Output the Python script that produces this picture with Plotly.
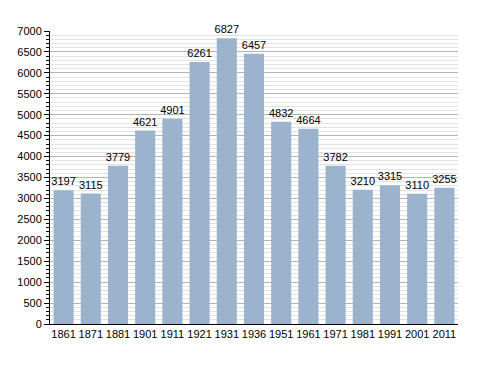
import plotly.graph_objects as go

years = ["1861", "1871", "1881", "1901", "1911", "1921", "1931", "1936",
         "1951", "1961", "1971", "1981", "1991", "2001", "2011"]
population = [3197, 3115, 3779, 4621, 4901, 6261, 6827, 6457,
              4832, 4664, 3782, 3210, 3315, 3110, 3255]
y_ticks = list(range(0, 7001, 500))

fig = go.Figure(go.Bar(
    x=years, y=population,
    text=[str(v) for v in population],
    textposition="outside",
    constraintext="none",
    textfont=dict(family="Liberation Sans, Arial", size=11, color="#000"),
    cliponaxis=False,
    marker=dict(color="#9bb3cc", line=dict(width=0)),
))

fig.update_layout(
    width=480, height=365,
    margin=dict(l=42, r=30, t=23, b=49, autoexpand=False),
    paper_bgcolor="white", plot_bgcolor="white",
    bargap=0.26,
    showlegend=False,
    font=dict(family="Liberation Sans, Arial", size=11, color="#000"),
    xaxis=dict(
        type="category", automargin=False,
        showline=True, linecolor="#000", linewidth=1,
        ticks="", showgrid=False, ticklabelstandoff=0,
        tickfont=dict(size=11),
    ),
    yaxis=dict(
        range=[0, 7000], automargin=False,
        tickvals=y_ticks,
        showline=True, linecolor="#000", linewidth=1,
        ticks="outside", ticklen=5, tickcolor="#000",
        showgrid=True, gridcolor="#b4b4b4", gridwidth=1,
        zeroline=False,
        tickfont=dict(size=11),
        minor=dict(dtick=100, ticks="outside", ticklen=3, tickcolor="#000",
                   showgrid=True, gridcolor="#e2e2e2", gridwidth=1),
    ),
)

fig.write_html("out.html")
